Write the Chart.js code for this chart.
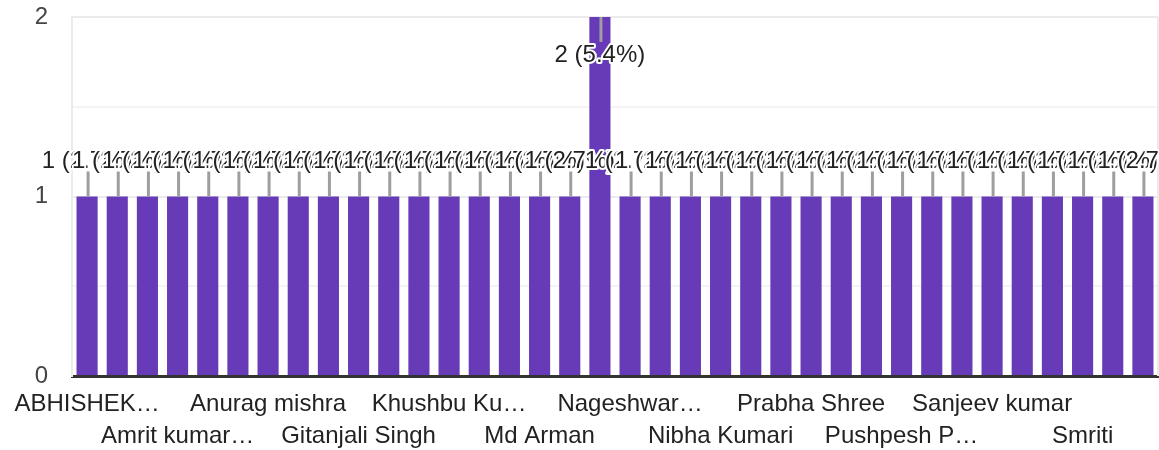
<!DOCTYPE html>
<html>
<head>
<meta charset="utf-8">
<script src="https://cdn.jsdelivr.net/npm/chart.js@4.4.1/dist/chart.umd.min.js"></script>
<style>
  body { margin: 0; background: #fff; }
</style>
</head>
<body>
<canvas id="myChart" width="1159" height="450"></canvas>
<script>
// nombres de las respuestas (orden de la grafica)
const names = [
  'ABHISHEK KUMAR', 'Aditya Raj', 'Ajay Kumar', 'Amrit kumar singh', 'Anjali Kumari', 'Ankit Kumar',
  'Anurag mishra', 'Arti Kumari', 'Deepak Kumar', 'Gitanjali Singh', 'Jyoti Kumari', 'Kajal Kumari',
  'Khushbu Kumari', 'Manish Kumar', 'Md Aftab', 'Md Arman', 'Mohan Kumar', 'Mukesh Kumar',
  'Nageshwar Prasad', 'Nandini Kumari', 'Neha Kumari', 'Nibha Kumari', 'Nikhil Raj', 'Pooja Kumari',
  'Prabha Shree', 'Prakash Kumar', 'Priya Kumari', 'Pushpesh Pandey', 'Rahul Kumar', 'Rajesh Kumar',
  'Sanjeev kumar', 'Saurabh Kumar', 'Shivam Kumar', 'Smriti', 'Sonu Kumar', 'Vikash Kumar'
];
const counts = [
  1, 1, 1, 1, 1, 1,
  1, 1, 1, 1, 1, 1,
  1, 1, 1, 1, 1, 2,
  1, 1, 1, 1, 1, 1,
  1, 1, 1, 1, 1, 1,
  1, 1, 1, 1, 1, 1
];
const yTicks = [0, 1, 2];

const fontFamily = '"Liberation Sans", Arial, sans-serif';
const total = counts.reduce((a, b) => a + b, 0);

// recortar etiquetas largas con "…"
const measureCtx = document.createElement('canvas').getContext('2d');
measureCtx.font = '24px ' + fontFamily;
function cutLabel(text) {
  const maxW = 164;
  if (measureCtx.measureText(text).width <= maxW) return text;
  let s = text;
  while (s.length > 1 && measureCtx.measureText(s.trimEnd() + '…').width > maxW) {
    s = s.slice(0, -1);
  }
  return s.trimEnd() + '…';
}

// etiquetas de valor encima de cada barra, con linea guia
const valueLabels = {
  id: 'valueLabels',
  afterDatasetsDraw(chart) {
    const ctx = chart.ctx;
    const meta = chart.getDatasetMeta(0);
    const area = chart.chartArea;
    ctx.save();
    ctx.font = '24px ' + fontFamily;
    ctx.textAlign = 'center';
    ctx.textBaseline = 'middle';
    ctx.lineJoin = 'round';
    meta.data.forEach((bar, i) => {
      const v = counts[i];
      const text = v + ' (' + (v / total * 100).toFixed(1) + '%)';
      const atTop = bar.y - area.top < 30;
      let y1, y2, ty;
      if (atTop) {
        y1 = bar.y; y2 = bar.y + 25; ty = bar.y + 38;
      } else {
        y1 = bar.y - 25; y2 = bar.y; ty = bar.y - 35;
      }
      ctx.strokeStyle = '#9e9e9e';
      ctx.lineWidth = 3;
      ctx.beginPath();
      ctx.moveTo(bar.x + 1, y1);
      ctx.lineTo(bar.x + 1, y2);
      ctx.stroke();

      ctx.strokeStyle = '#fff';
      ctx.lineWidth = 4;
      ctx.strokeText(text, bar.x, ty);
      ctx.fillStyle = '#222';
      ctx.fillText(text, bar.x, ty);
    });
    ctx.restore();
  }
};

// borde derecho del area
const rightEdge = {
  id: 'rightEdge',
  beforeDatasetsDraw(chart) {
    const a = chart.chartArea;
    const ctx = chart.ctx;
    ctx.save();
    ctx.strokeStyle = '#ebebeb';
    ctx.lineWidth = 2;
    ctx.beginPath();
    ctx.moveTo(a.right, a.top);
    ctx.lineTo(a.right, a.bottom);
    ctx.stroke();
    ctx.restore();
  }
};

Chart.defaults.font.family = fontFamily;

new Chart(document.getElementById('myChart'), {
  type: 'bar',
  data: {
    labels: names,
    datasets: [{
      label: 'Responses',
      data: counts,
      backgroundColor: '#673ab7',
      barPercentage: 0.7,
      categoryPercentage: 1.0
    }]
  },
  options: {
    responsive: false,
    animation: false,
    layout: { padding: { top: 17, right: 1, left: 0, bottom: 0 } },
    plugins: {
      legend: { display: false },
      tooltip: { enabled: false }
    },
    scales: {
      x: {
        z: 1,
        grid: { display: false, drawTicks: false },
        border: { display: true, color: '#333', width: 3 },
        ticks: {
          autoSkip: false,
          maxRotation: 0,
          minRotation: 0,
          padding: 12,
          color: '#222',
          font: { size: 24, lineHeight: 32 / 24 },
          callback: function(value, index) {
            if (index % 3 !== 0) return '';
            const name = cutLabel(this.getLabelForValue(value));
            return (index / 3) % 2 === 0 ? [name, ''] : ['', name];
          }
        },
        afterFit: s => { s.height = 74; }
      },
      y: {
        min: yTicks[0],
        max: yTicks[yTicks.length - 1],
        grid: {
          drawTicks: false,
          lineWidth: 2,
          color: c => c.tick.value === 0 ? 'rgba(0,0,0,0)' :
            (yTicks.includes(c.tick.value) ? '#ebebeb' : '#f4f4f4')
        },
        border: { display: true, color: '#ebebeb', width: 2 },
        ticks: {
          stepSize: 0.5,
          padding: 24,
          color: '#444',
          font: { size: 24 },
          callback: v => yTicks.includes(v) ? v : ''
        },
        afterFit: s => { s.width = 72; s.paddingTop = 0; s.paddingBottom = 0; }
      }
    }
  },
  plugins: [rightEdge, valueLabels]
});
</script>
</body>
</html>
